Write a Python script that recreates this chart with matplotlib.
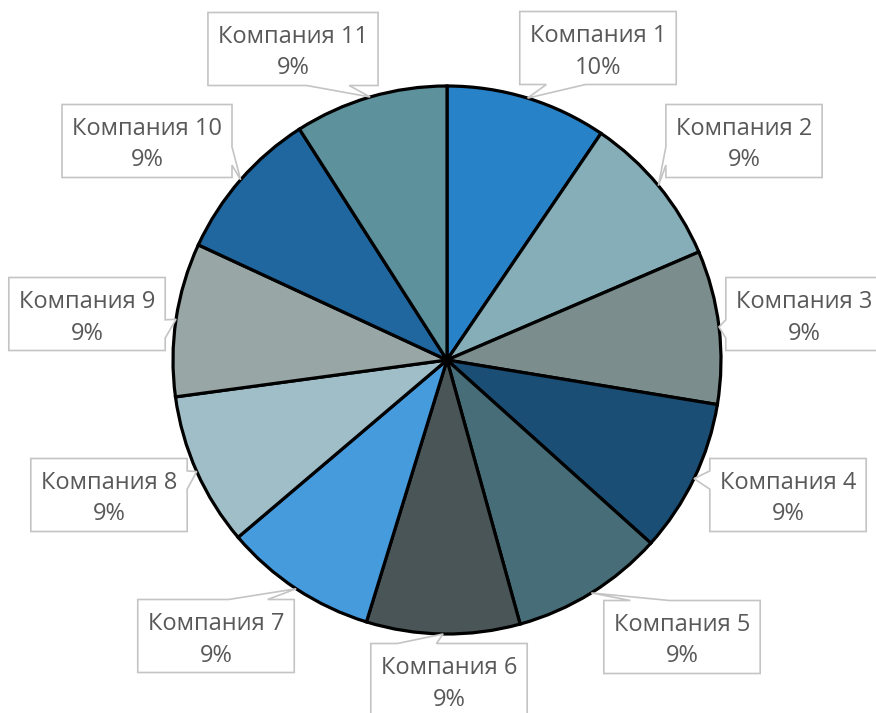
import numpy as np
import matplotlib
matplotlib.use("Agg")
import matplotlib.pyplot as plt
from matplotlib.patches import Polygon

companies = ["Компания 1", "Компания 2", "Компания 3", "Компания 4", "Компания 5",
             "Компания 6", "Компания 7", "Компания 8", "Компания 9", "Компания 10",
             "Компания 11"]
shares = [9.5, 9.05, 9.05, 9.05, 9.05, 9.05, 9.05, 9.05, 9.05, 9.05, 9.05]
colors = ["#2882C8", "#86AEB8", "#7B8D8D", "#1A4E75", "#476E78", "#4A5558",
          "#469BDC", "#A0BEC7", "#98A6A6", "#1F679E", "#5D919C"]
# label box centers in pixel coordinates (x from left, y from top) and pointer side
label_pos = [(598, 48), (744, 141), (804, 314), (788, 495), (682, 637),
             (449, 680), (216, 636), (109, 495), (87, 314), (147, 141), (293, 49)]
pointer_side = ["bottom", "left", "left", "left", "top", "top", "top",
                "right", "right", "right", "bottom"]

W, H = 876, 713
fig = plt.figure(figsize=(W / 100, H / 100), dpi=100)
ax = fig.add_axes([0, 0, 1, 1])

cx, cy, r = 447, 360, 274  # pixel coords (y down)
wedges, _ = ax.pie(shares, colors=colors, startangle=90, counterclock=False,
                   center=(cx, H - cy), radius=r, frame=True,
                   wedgeprops=dict(edgecolor="black", linewidth=2.3))
ax.set_xlim(0, W)
ax.set_ylim(0, H)
ax.axis("off")

renderer = fig.canvas.get_renderer()
FONT = dict(fontsize=17, color="#595959", family="Open Sans",
            ha="center", va="center", zorder=6)


def callout(bx, by, w, h, tx, ty, side):
    x0, x1 = bx - w / 2, bx + w / 2
    y0, y1 = by - h / 2, by + h / 2
    if side in ("top", "bottom"):
        fr = (0.17, 0.42) if tx <= bx else (0.58, 0.83)
        a, b = x0 + fr[0] * w, x0 + fr[1] * w
        if side == "top":
            pts = [(x0, y0), (a, y0), (tx, ty), (b, y0), (x1, y0), (x1, y1), (x0, y1)]
        else:
            pts = [(x0, y0), (x1, y0), (x1, y1), (b, y1), (tx, ty), (a, y1), (x0, y1)]
    else:
        fr = (0.17, 0.42) if ty <= by else (0.58, 0.83)
        a, b = y0 + fr[0] * h, y0 + fr[1] * h
        if side == "right":
            pts = [(x0, y0), (x1, y0), (x1, a), (tx, ty), (x1, b), (x1, y1), (x0, y1)]
        else:
            pts = [(x0, y0), (x1, y0), (x1, y1), (x0, y1), (x0, b), (tx, ty), (x0, a)]
    return [(px, H - py) for px, py in pts]


total = sum(shares)
for wdg, name, val, (lx, ly), side in zip(wedges, companies, shares, label_pos, pointer_side):
    mid = np.deg2rad((wdg.theta1 + wdg.theta2) / 2)
    tx = cx + r * np.cos(mid)
    ty = cy - r * np.sin(mid)
    pct = f"{int(np.floor(val / total * 100 + 0.5))}%"
    t1 = ax.text(lx, H - (ly - 12), name, **FONT)
    ax.text(lx, H - (ly + 19.5), pct, **FONT)
    tw = t1.get_window_extent(renderer).width
    bw = tw + 20
    ax.add_patch(Polygon(callout(lx, ly, bw, 73, tx, ty, side), closed=True,
                         facecolor="white", edgecolor="#C4C4C4", linewidth=1.2,
                         zorder=5))

fig.savefig("out.png", dpi=100)
